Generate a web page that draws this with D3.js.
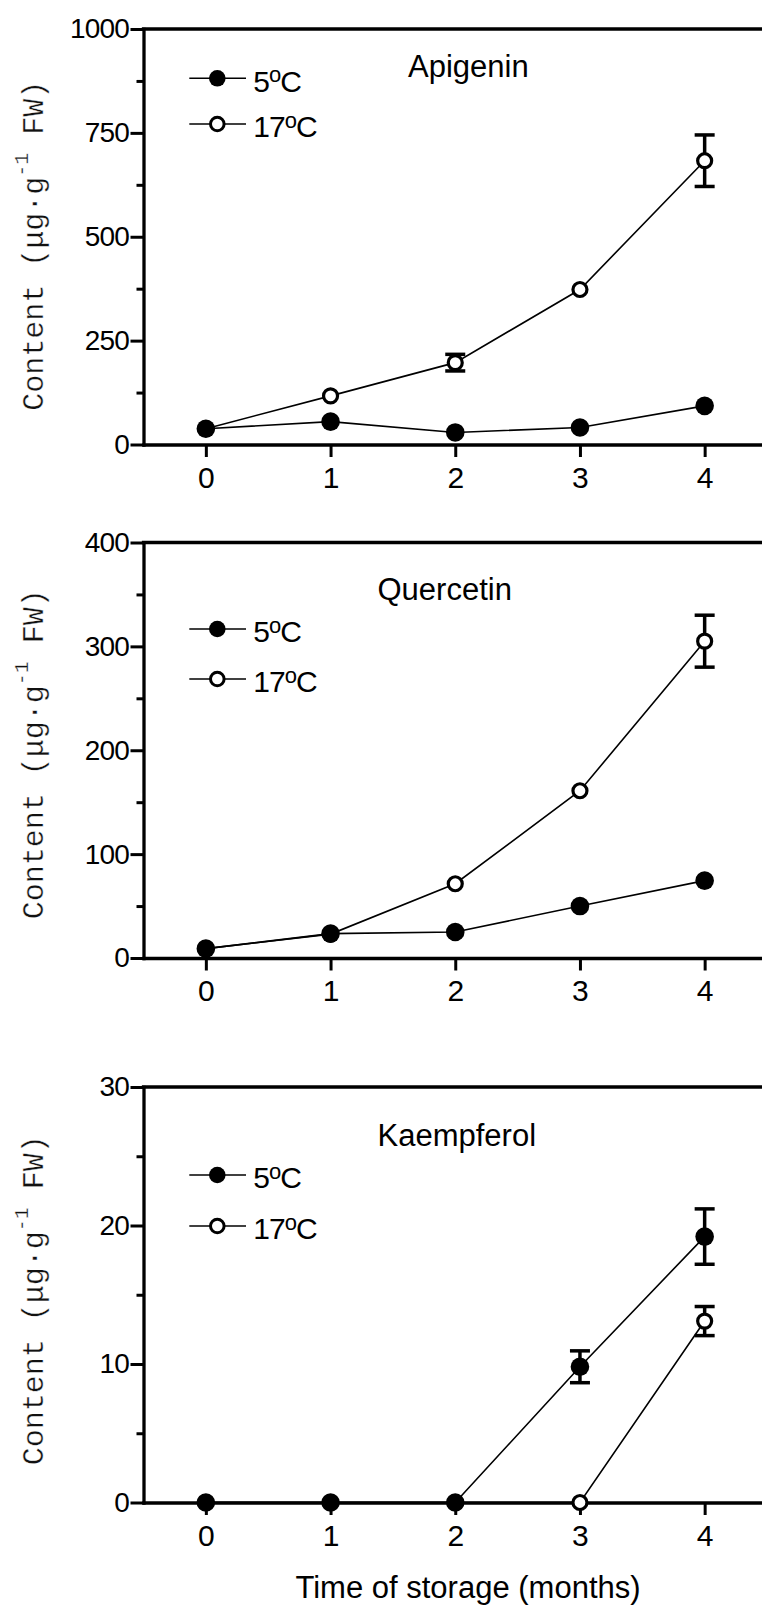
<!DOCTYPE html>
<html>
<head>
<meta charset="utf-8">
<script src="https://cdn.jsdelivr.net/npm/d3@7"></script>
<style>
  body { margin: 0; background: #fff; }
  svg { display: block; background: #fff; }
</style>
</head>
<body>
<svg id="chart" width="762" height="1606"></svg>
<script>
// ---- data ----
const months = [0, 1, 2, 3, 4];
const monthTicks = [0, 1, 2, 3, 4];
const compounds = ['Apigenin', 'Quercetin', 'Kaempferol'];
const seriesLabels = ['5', '17']; // each followed by a raised "o" and "C"

const apigenin5 = [38, 55, 29, 41, 93];
const apigenin5Err = [0, 0, 0, 0, 0];
const apigenin17 = [38, 117, 197, 373, 683];
const apigenin17Err = [0, 0, 20, 0, 62];

const quercetin5 = [9, 23.5, 25, 50, 74.5];
const quercetin5Err = [0, 0, 0, 0, 0];
const quercetin17 = [9, 23, 71.5, 161, 305];
const quercetin17Err = [0, 0, 0, 0, 25];

const kaempferol5 = [0, 0, 0, 9.8, 19.2];
const kaempferol5Err = [0, 0, 0, 1.15, 2.0];
const kaempferol17 = [0, 0, 0, 0, 13.1];
const kaempferol17Err = [0, 0, 0, 0, 1.05];

const yMaxes = [1000, 400, 30];
const apigeninTicks = [0, 250, 500, 750, 1000];
const quercetinTicks = [0, 100, 200, 300, 400];
const kaempferolTicks = [0, 10, 20, 30];
const apigeninMinor = [125, 375, 625, 875];
const quercetinMinor = [50, 150, 250, 350];
const kaempferolMinor = [5, 15, 25];

// ---- layout ----
const axisX = 143.5;
const axisWidth = 3.3;
const layout = [
  { top: 29, bottom: 444.5, titleX: 408, titleY: 77.3, legendY: 78.3, legendGap: 45.7, labelShift: 9 },
  { top: 542.5, bottom: 958, titleX: 377.5, titleY: 599.6, legendY: 629, legendGap: 50, labelShift: 4 },
  { top: 1087, bottom: 1502.5, titleX: 377.5, titleY: 1146.3, legendY: 1175, legendGap: 51, labelShift: 5.5 }
];

const panels = [
  { name: compounds[0], ticks: apigeninTicks, minor: apigeninMinor,
    s5: apigenin5, e5: apigenin5Err, s17: apigenin17, e17: apigenin17Err },
  { name: compounds[1], ticks: quercetinTicks, minor: quercetinMinor,
    s5: quercetin5, e5: quercetin5Err, s17: quercetin17, e17: quercetin17Err },
  { name: compounds[2], ticks: kaempferolTicks, minor: kaempferolMinor,
    s5: kaempferol5, e5: kaempferol5Err, s17: kaempferol17, e17: kaempferol17Err }
];

const svg = d3.select('#chart');
const sans = "'Liberation Sans', Arial, sans-serif";

const xScale = d3.scaleLinear()
  .domain([-0.5, 4.5])
  .range([axisX, 767]);

// "5" + raised "o" + "C"
function tempLabel(sel, num) {
  sel.append('tspan').text(num);
  sel.append('tspan').attr('font-size', 22).attr('dy', -9.4).text('o');
  sel.append('tspan').attr('dy', 9.4).text('C');
}

panels.forEach((p, k) => {
  const L = layout[k];
  const g = svg.append('g');

  const y = d3.scaleLinear()
    .domain([0, yMaxes[k]])
    .range([L.bottom, L.top]);

  // top frame line
  g.append('line')
    .attr('x1', xScale.range()[0]).attr('x2', xScale.range()[1])
    .attr('y1', y(yMaxes[k])).attr('y2', y(yMaxes[k]))
    .attr('stroke', '#000').attr('stroke-width', axisWidth)
    .attr('stroke-linecap', 'square');

  // minor y ticks
  g.append('g')
    .attr('transform', `translate(${axisX},0)`)
    .call(d3.axisLeft(y).tickValues(p.minor).tickSize(7).tickSizeOuter(0).tickFormat(''))
    .call(a => a.select('.domain').remove())
    .call(a => a.selectAll('.tick line').attr('stroke-width', 3));

  // major y axis
  g.append('g')
    .attr('transform', `translate(${axisX},0)`)
    .call(d3.axisLeft(y).tickValues(p.ticks).tickSize(13).tickPadding(1.5).tickSizeOuter(0).tickFormat(d3.format('d')))
    .call(a => a.select('.domain').attr('stroke-width', axisWidth).attr('stroke-linecap', 'square'))
    .call(a => a.selectAll('.tick line').attr('stroke-width', 3))
    .call(a => a.selectAll('.tick text')
      .attr('font-family', sans).attr('font-size', 28)
      .attr('letter-spacing', -0.8).attr('fill', '#000'));

  // x axis
  g.append('g')
    .attr('transform', `translate(0,${L.bottom})`)
    .call(d3.axisBottom(xScale).tickValues(monthTicks).tickSize(12.5).tickPadding(9.5)
      .tickSizeOuter(0).tickFormat(d3.format('d')))
    .call(a => a.select('.domain').attr('stroke-width', axisWidth).attr('stroke-linecap', 'square'))
    .call(a => a.selectAll('.tick line').attr('stroke-width', 3))
    .call(a => a.selectAll('.tick text')
      .attr('font-family', sans).attr('font-size', 30).attr('fill', '#000'));

  // y title (thin monospace)
  const yt = g.append('text')
    .attr('transform', `translate(43,${(L.top + L.bottom) / 2 + L.labelShift}) rotate(-90)`)
    .attr('text-anchor', 'middle')
    .attr('font-family', "'Liberation Mono', 'DejaVu Sans Mono', monospace")
    .attr('font-size', 30)
    .attr('fill', '#111')
    .attr('stroke', '#fff')
    .attr('stroke-width', 0.35);
  yt.append('tspan').text('Content (\u03bcg\u00b7g');
  yt.append('tspan').attr('font-size', 20).attr('dy', -15).text('-1');
  yt.append('tspan').attr('dy', 15).text(' FW)');

  // compound name
  g.append('text')
    .attr('x', L.titleX).attr('y', L.titleY)
    .attr('font-family', sans).attr('font-size', 31)
    .text(p.name);

  // series: 17 first so the filled 5 sits on top
  const series = [
    { v: p.s17, e: p.e17, filled: false },
    { v: p.s5, e: p.e5, filled: true }
  ];
  const line = d3.line()
    .x((d, i) => xScale(months[i]))
    .y(d => y(d));

  series.forEach(s => {
    g.append('path')
      .attr('d', line(s.v))
      .attr('fill', 'none').attr('stroke', '#000').attr('stroke-width', 1.6);
  });

  series.forEach(s => {
    const bars = months.map((m, i) => ({ m, v: s.v[i], e: s.e[i] })).filter(d => d.e > 0);
    const eb = g.append('g').attr('stroke', '#000').attr('stroke-width', 3.5);
    eb.selectAll('line.v').data(bars).enter().append('line')
      .attr('x1', d => xScale(d.m)).attr('x2', d => xScale(d.m))
      .attr('y1', d => y(d.v - d.e)).attr('y2', d => y(d.v + d.e));
    [-1, 1].forEach(sign => {
      eb.selectAll(null).data(bars).enter().append('line')
        .attr('x1', d => xScale(d.m) - 10).attr('x2', d => xScale(d.m) + 10)
        .attr('y1', d => y(d.v + sign * d.e)).attr('y2', d => y(d.v + sign * d.e));
    });
  });

  series.forEach(s => {
    g.append('g').selectAll('circle')
      .data(s.v).enter().append('circle')
      .attr('cx', (d, i) => xScale(months[i]))
      .attr('cy', d => y(d))
      .attr('r', s.filled ? 9.3 : 7)
      .attr('fill', s.filled ? '#000' : '#fff')
      .attr('stroke', '#000')
      .attr('stroke-width', s.filled ? 0 : 3.2);
  });

  // legend
  [true, false].forEach((filled, j) => {
    const ry = L.legendY + j * L.legendGap;
    g.append('line')
      .attr('x1', 189.3).attr('x2', 246).attr('y1', ry).attr('y2', ry)
      .attr('stroke', '#000').attr('stroke-width', 1.6);
    g.append('circle')
      .attr('cx', 217.3).attr('cy', ry)
      .attr('r', filled ? 8.3 : 6.8)
      .attr('fill', filled ? '#000' : '#fff')
      .attr('stroke', '#000').attr('stroke-width', filled ? 0 : 3);
    g.append('text')
      .attr('x', 253.3).attr('y', ry + 13.4)
      .attr('font-family', sans).attr('font-size', 30)
      .attr('letter-spacing', -1)
      .call(tempLabel, seriesLabels[j]);
  });
});

// x title
svg.append('text')
  .attr('x', 468).attr('y', 1598)
  .attr('text-anchor', 'middle')
  .attr('font-family', sans).attr('font-size', 31)
  .text('Time of storage (months)');
</script>
</body>
</html>
